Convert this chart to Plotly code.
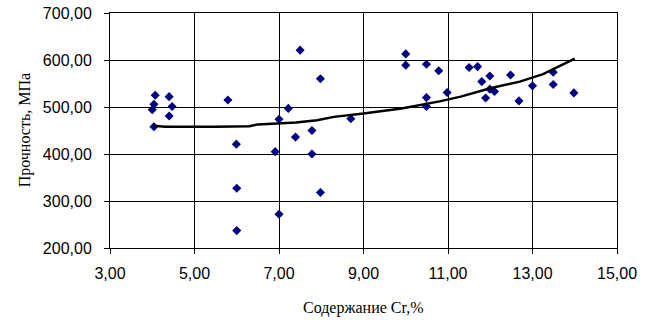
import plotly.graph_objects as go

# Chromium content (%) and strength (MPa) of the samples
cr_content = [4.07, 4.40, 4.04, 4.00, 4.47, 4.40, 4.04, 5.79, 5.99, 6.00, 6.00,
              7.50, 7.98, 7.22, 7.00, 7.78, 7.39, 6.91, 7.78, 7.98, 7.00,
              8.70, 10.00, 10.00, 10.49, 10.78, 10.49, 10.49, 10.98, 11.50, 11.70,
              11.80, 11.99, 11.89, 11.99, 12.10, 12.48, 12.68, 13.00, 13.49, 13.49, 13.98]
strength = [525, 522, 506, 494, 501, 481, 458, 515, 421, 327, 237,
            621, 560, 497, 474, 450, 436, 405, 400, 318, 272,
            475, 613, 589, 591, 577, 520, 501, 531, 584, 586,
            554, 566, 519, 538, 533, 568, 513, 545, 574, 548, 530]

# Trend curve
trend_x = [4.04, 4.3, 5.5, 6.3, 6.5, 7.0, 7.4, 7.9, 8.3, 9.0, 9.9,
           10.8, 11.3, 12.0, 12.7, 13.25, 13.6, 14.0]
trend_y = [460, 458, 458, 459, 463, 466, 467, 472, 479, 486, 497,
           512, 522, 540, 554, 570, 585, 603]

x_ticks = [3, 5, 7, 9, 11, 13, 15]
y_ticks = [200, 300, 400, 500, 600, 700]

fig = go.Figure()
fig.add_trace(go.Scatter(
    x=cr_content, y=strength, mode="markers",
    marker=dict(symbol="diamond", size=7, color="#000080", line=dict(width=0)),
    showlegend=False,
))
fig.add_trace(go.Scatter(
    x=trend_x, y=trend_y, mode="lines",
    line=dict(color="black", width=2.5),
    showlegend=False,
))

axis_common = dict(
    showgrid=True, gridcolor="black", gridwidth=1,
    showline=True, linecolor="black", linewidth=1, mirror=True,
    ticks="outside", ticklen=5, tickcolor="black", tickwidth=1,
    zeroline=False, tickformat=".2f", automargin=False,
    tickfont=dict(family="Liberation Sans, Arial, sans-serif", size=16, color="black"),
)

fig.update_xaxes(range=[3, 15], tickvals=x_ticks, ticklabelstandoff=6, **axis_common)
fig.update_yaxes(range=[200, 700], tickvals=y_ticks, ticklabelstandoff=9, **axis_common)

fig.update_layout(
    width=651, height=320,
    margin=dict(l=110, r=34, t=13, b=72),
    paper_bgcolor="white", plot_bgcolor="white",
    separators=", ",
    annotations=[
        dict(text="Прочность, МПа", xref="paper", yref="paper",
             x=-0.168, y=0.5, xanchor="center", yanchor="middle", textangle=-90,
             showarrow=False,
             font=dict(family="Liberation Serif, Times New Roman, serif", size=16, color="black")),
        dict(text="Содержание Cr,%", xref="paper", yref="paper",
             x=0.5, y=-0.255, xanchor="center", yanchor="middle",
             showarrow=False,
             font=dict(family="Liberation Serif, Times New Roman, serif", size=16, color="black")),
    ],
)

fig.write_html("out.html")
